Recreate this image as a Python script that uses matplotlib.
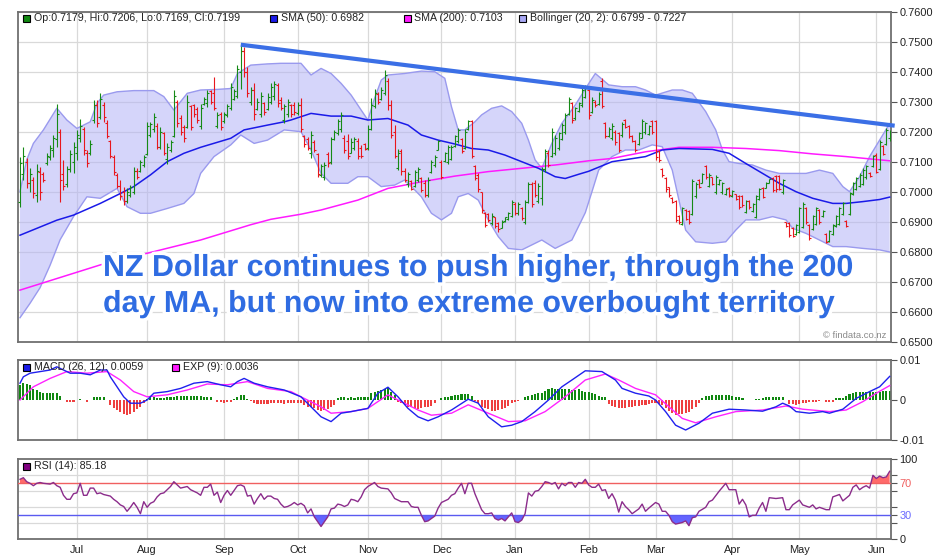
import numpy as np
import pandas as pd
import matplotlib
matplotlib.use("Agg")
import matplotlib.pyplot as plt
import matplotlib.patheffects as pe
from matplotlib.patches import Rectangle

plt.rcParams['font.family'] = ['Liberation Sans', 'DejaVu Sans']

# ---------------- data (prices in 1/10000 units) ----------------
START_DATE = '2016-06-08'
N_BARS = 261

OPEN = [6965,7060,7100,7030,7040,6990,7065,7060,7095,7115,
        7140,7175,7200,7060,7025,7075,7100,7130,7180,7210,
        7130,7130,7240,7290,7250,7290,7230,7170,7115,7055,
        7020,7000,6970,6990,7000,7070,7070,7090,7125,7190,
        7210,7220,7150,7195,7110,7140,7185,7300,7245,7215,
        7215,7285,7290,7275,7220,7292,7295,7335,7330,7220,
        7260,7235,7255,7280,7310,7320,7400,7470,7400,7300,
        7340,7275,7260,7295,7275,7300,7320,7355,7305,7240,
        7260,7290,7290,7262,7290,7185,7175,7130,7165,7125,
        7055,7050,7125,7100,7175,7195,7210,7180,7170,7130,
        7145,7170,7145,7158,7145,7210,7285,7325,7310,7330,
        7370,7290,7200,7080,7135,7070,7025,7035,7020,7040,
        7045,7030,6990,7065,7090,7140,7100,7102,7100,7110,
        7152,7170,7175,7145,7208,7235,7085,7055,6998,6930,
        6925,6895,6915,6895,6880,6903,6910,6920,6960,6930,
        6945,6900,6965,7025,7030,6970,6980,7075,7130,7120,
        7130,7145,7175,7200,7260,7295,7245,7270,7290,7315,
        7340,7265,7300,7292,7370,7228,7185,7180,7200,7195,
        7190,7240,7218,7185,7168,7160,7180,7198,7192,7235,
        7235,7135,7075,7045,7015,6980,6968,6920,6893,6940,
        6935,6925,6985,7040,7030,7085,7020,7048,6998,7025,
        6998,6992,7014,6985,6992,6985,6985,6932,6968,6936,
        6915,6975,7014,7013,7030,7046,7052,7052,6998,6898,
        6896,6880,6858,6865,6882,6946,6890,6876,6893,6940,
        6919,6858,6836,6858,6886,6892,6925,6903,6925,6992,
        7009,7020,7026,7048,7064,7086,7124,7076,7152,7160,
        7179]
HIGH = [7117,7148,7111,7078,7050,7094,7081,7067,7128,7156,
        7189,7294,7209,7106,7086,7139,7167,7206,7241,7217,
        7139,7172,7306,7306,7328,7300,7239,7174,7122,7061,
        7039,7017,7011,7022,7083,7078,7106,7122,7233,7233,
        7261,7228,7217,7200,7161,7172,7339,7306,7256,7222,
        7322,7289,7294,7283,7294,7317,7339,7339,7383,7267,
        7267,7267,7294,7361,7344,7422,7489,7483,7417,7350,
        7363,7311,7333,7300,7328,7361,7369,7361,7317,7294,
        7308,7294,7300,7300,7311,7189,7183,7203,7172,7128,
        7094,7100,7133,7183,7206,7244,7267,7189,7194,7178,
        7183,7178,7156,7161,7222,7311,7344,7333,7350,7406,
        7378,7306,7222,7144,7144,7078,7067,7039,7072,7083,
        7050,7039,7050,7106,7122,7172,7106,7133,7156,7156,
        7189,7211,7178,7208,7239,7239,7089,7061,7000,6933,
        6928,6928,6917,6900,6906,6917,6933,6972,6967,6967,
        6950,6972,7033,7033,7039,7028,7083,7144,7139,7211,
        7189,7200,7228,7261,7317,7300,7283,7300,7350,7356,
        7344,7317,7306,7333,7378,7233,7217,7228,7206,7200,
        7233,7244,7222,7189,7172,7200,7244,7233,7222,7239,
        7239,7139,7078,7050,7017,6983,6972,6922,6950,6944,
        6939,7044,7033,7044,7061,7089,7061,7050,7056,7044,
        7033,7011,7017,7006,6994,6989,6989,6972,6972,6961,
        6989,7011,7017,7033,7044,7050,7056,7056,7044,6900,
        6900,6883,6894,6950,6967,6950,6894,6922,6950,6944,
        6939,6861,6872,6894,6922,6950,6967,6906,7000,7033,
        7050,7061,7078,7089,7067,7122,7128,7172,7156,7211,
        7206]
LOW = [6950,7039,7011,7000,6978,6967,6972,7033,7089,7106,
       7117,7150,6967,7006,7017,7067,7061,7106,7167,7122,
       7083,7122,7228,7217,7244,7233,7178,7111,7056,7011,
       6972,6956,6961,6983,6994,7044,7067,7083,7122,7183,
       7200,7141,7144,7122,7094,7133,7183,7217,7189,7167,
       7211,7206,7250,7228,7208,7289,7283,7294,7272,7211,
       7206,7228,7250,7272,7306,7311,7344,7383,7317,7290,
       7239,7272,7250,7256,7272,7294,7306,7283,7272,7228,
       7250,7250,7256,7256,7200,7150,7139,7111,7133,7050,
       7050,7039,7083,7094,7172,7189,7200,7128,7108,7128,
       7139,7108,7111,7139,7139,7206,7278,7294,7306,7322,
       7272,7178,7111,7072,7056,7033,7017,7006,7017,7033,
       7000,6983,6983,7061,7083,7139,7044,7100,7094,7106,
       7150,7161,7128,7144,7206,7111,7039,7000,6928,6883,
       6900,6889,6878,6867,6878,6900,6906,6917,6922,6922,
       6906,6894,6961,6950,6983,6961,6956,7067,7083,7117,
       7122,7139,7172,7194,7256,7228,7239,7267,7283,7311,
       7244,7261,7283,7289,7278,7178,7183,7172,7156,7133,
       7183,7211,7178,7167,7133,7156,7178,7194,7189,7194,
       7106,7100,7050,7000,6983,6961,6900,6894,6889,6906,
       6894,6922,6978,7011,7028,7044,7017,7022,6994,7022,
       6994,6989,6983,6983,6972,6944,6950,6928,6944,6933,
       6911,6972,6978,7011,7028,7000,7000,7006,6994,6883,
       6850,6850,6856,6861,6878,6894,6839,6872,6889,6894,
       6917,6828,6833,6856,6883,6889,6922,6883,6922,6989,
       7006,7017,7022,7044,7050,7083,7061,7072,7122,7156,
       7169]
CLOSE = [7095,7120,7030,7060,6995,7070,7000,7040,7120,7145,
         7180,7260,7040,7020,7075,7125,7150,7190,7220,7140,
         7095,7160,7290,7230,7310,7250,7185,7120,7065,7020,
         6985,6970,7000,7015,7070,7050,7100,7115,7220,7225,
         7250,7150,7200,7130,7150,7165,7320,7230,7200,7180,
         7300,7215,7260,7240,7280,7310,7330,7300,7280,7255,
         7215,7260,7285,7350,7335,7410,7470,7400,7330,7340,
         7260,7300,7320,7265,7315,7350,7360,7295,7280,7285,
         7300,7260,7265,7290,7210,7160,7145,7190,7140,7060,
         7085,7090,7095,7175,7200,7235,7255,7140,7120,7165,
         7175,7120,7120,7142,7210,7290,7330,7300,7340,7390,
         7290,7190,7120,7130,7070,7040,7060,7010,7065,7075,
         7005,6990,7040,7100,7115,7168,7050,7128,7150,7150,
         7185,7205,7135,7200,7235,7120,7045,7010,6940,6890,
         6905,6920,6885,6875,6900,6915,6930,6965,6930,6960,
         6912,6965,7025,6960,6990,7020,7075,7135,7090,7200,
         7180,7195,7222,7255,7310,7240,7278,7295,7340,7345,
         7255,7305,7288,7325,7285,7185,7210,7220,7165,7140,
         7225,7215,7185,7170,7140,7195,7235,7228,7218,7200,
         7115,7105,7055,7008,6988,6965,6905,6898,6945,6910,
         6900,7035,7025,7015,7058,7050,7055,7025,7050,7040,
         7028,7008,6988,7003,6975,6950,6955,6968,6948,6958,
         6985,7008,6982,7030,7042,7005,7008,7010,7040,6886,
         6855,6853,6890,6945,6960,6898,6845,6918,6945,6898,
         6936,6832,6868,6890,6918,6945,6962,6886,6995,7030,
         7046,7056,7072,7085,7053,7118,7066,7165,7126,7205,
         7199]

# Moving averages / Bollinger (trading-day index, value in 1/10000)
SMA50_IDX = [0,11,16,24,30,34,39,44,49,54,63,67,74,79,81,87,93,99,104,110,
             116,120,125,130,135,140,145,150,155,160,163,167,170,177,187,192,197,207,212,217,
             222,227,232,237,243,247,252,257,260]
SMA50_VAL = [6855,6905,6922,6961,6994,7017,7056,7100,7128,7148,7178,7206,7222,7233,7239,7261,7252,7252,7239,7244,
             7222,7189,7172,7159,7144,7139,7122,7100,7078,7050,7044,7058,7068,7100,7117,7139,7144,7141,7128,7094,
             7061,7028,7000,6978,6961,6961,6967,6974,6982]
SMA200_IDX = [0,24,54,69,75,84,90,101,110,120,130,140,150,160,170,177,187,197,207,217,227,237,247,260]
SMA200_VAL = [6672,6756,6839,6890,6908,6925,6939,6972,7011,7033,7052,7067,7078,7089,7103,7111,7133,7148,7148,7144,
              7137,7126,7117,7103]
BB_UP_IDX = [0,2,4,7,11,14,17,21,23,25,29,34,40,43,46,50,54,59,63,65,
             69,74,78,84,87,90,93,96,99,102,104,106,108,110,115,120,124,127,129,131,
             133,136,138,141,144,147,150,152,154,156,159,162,166,170,172,176,180,184,187,190,
             195,198,201,205,208,210,212,215,219,223,227,231,235,239,243,246,248,251,254,257,260]
BB_UP_VAL = [7000,7106,7161,7206,7278,7239,7211,7233,7294,7322,7333,7337,7337,7317,7272,7328,7339,7341,7344,7394,
             7422,7426,7428,7428,7389,7411,7394,7361,7322,7272,7239,7311,7372,7389,7394,7402,7400,7378,7283,7206,
             7206,7233,7256,7278,7286,7267,7228,7172,7106,7078,7161,7228,7289,7360,7394,7356,7350,7350,7339,7322,
             7339,7339,7328,7267,7206,7139,7100,7094,7089,7072,7061,7061,7061,7072,7061,7017,7000,7050,7117,7172,7227]
BB_LO_IDX = [0,3,6,9,12,16,20,24,29,32,36,39,44,49,52,54,58,63,66,70,
             74,79,84,87,90,93,98,101,104,108,112,115,118,120,123,126,129,131,134,137,
             140,143,146,150,154,156,160,165,169,171,173,177,181,185,189,192,195,197,199,202,
             207,211,214,217,221,225,229,231,235,239,243,247,252,257,260]
BB_LO_VAL = [6580,6628,6680,6755,6840,6917,6983,6978,7011,6950,6928,6928,6944,6961,6994,7061,7117,7156,7189,7161,
             7172,7206,7200,7139,7061,7028,7028,7050,7050,7017,7022,7039,7006,6983,6928,6906,6928,6983,6994,6972,
             6906,6850,6811,6806,6828,6839,6811,6839,6930,7000,7072,7117,7139,7139,7156,7150,7072,6972,6872,6833,
             6828,6833,6872,6906,6906,6917,6906,6878,6861,6839,6817,6817,6811,6806,6799]
TREND_IDX = [66, 261.5]
TREND_VAL = [7490, 7220]

# MACD (values in 1/10000)
MACD_IDX = [0,1,3,9,11,13,15,18,21,24,26,27,29,31,33,36,38,40,44,48,
            52,56,60,63,65,67,70,74,79,84,87,90,93,96,99,104,107,110,113,116,
            119,122,125,129,134,137,140,144,147,150,154,158,162,165,169,174,178,180,184,188,
            190,193,196,199,203,207,212,217,222,226,228,230,232,236,240,242,246,250,254,257,260]
MACD_VAL = [42,58,67,75,83,75,67,67,63,75,75,58,33,8,-8,-8,0,17,21,29,
            42,46,38,33,46,54,42,33,25,8,-17,-42,-54,-33,-29,-21,17,32,8,-21,
            -42,-52,-42,-25,2,-8,-42,-67,-63,-54,-29,0,33,50,73,71,50,29,17,10,
            0,-29,-63,-75,-58,-33,-23,-25,-28,-17,-8,-15,-29,-33,-29,-33,-23,4,21,33,59]
SIGNAL_IDX = [0,4,9,14,20,26,30,34,38,44,50,56,62,68,74,81,84,90,93,99,
              104,110,113,119,123,129,134,140,146,151,157,163,169,175,179,184,190,194,198,202,
              208,214,222,229,234,242,247,252,256,260]
SIGNAL_VAL = [0,33,54,71,67,71,50,21,8,13,25,40,38,46,29,21,8,-17,-33,-29,
              -21,13,0,-25,-38,-33,-12,-33,-54,-52,-29,8,50,65,50,29,13,-17,-46,-57,
              -42,-29,-25,-15,-23,-29,-25,-4,17,36]
HIST = [37,42,39,37,27,25,21,17,17,17,18,17,10,0,-4,-4,-4,0,3,0,
        -6,0,7,8,8,8,0,-12,-21,-25,-29,-35,-37,-36,-29,-23,-17,-8,2,8,
        7,6,4,6,7,8,8,10,10,10,10,10,10,10,9,8,8,7,-1,-4,
        -6,-7,-6,-4,2,8,12,12,3,-2,-8,-10,-10,-10,-9,-8,-8,-8,-8,-9,
        -8,-8,-8,-8,-8,-12,-17,-17,-21,-25,-27,-25,-23,-18,-12,4,7,7,6,7,
        6,7,7,7,7,17,21,23,25,27,29,21,12,-4,-8,-12,-17,-18,-21,-23,
        -21,-18,-17,-15,-8,-1,6,7,8,10,12,13,14,15,14,10,-3,-8,-17,-21,
        -23,-27,-27,-25,-23,-21,-15,-8,-6,-2,1,7,11,12,14,17,18,23,27,29,
        28,27,27,27,27,25,25,27,23,21,19,17,14,10,8,7,-10,-15,-18,-21,
        -21,-19,-18,-17,-15,-15,-13,-12,-11,-8,-8,-10,-12,-21,-27,-33,-37,-36,-35,-33,
        -29,-23,-17,-8,4,10,11,12,12,12,12,12,12,10,8,7,4,1,1,1,
        2,2,4,7,8,8,8,7,7,0,-10,-11,-12,-10,-8,-7,-6,-6,-4,-2,
        0,-4,-6,-4,4,5,6,11,14,18,21,21,21,21,21,21,21,21,23,23,
        23]

# RSI (14)
RSI_IDX = [0,1,2,3,4,5,6,7,9,10,11,12,13,14,15,16,17,18,19,20,
           21,22,23,24,25,26,27,28,29,30,31,32,33,34,35,36,37,38,39,40,
           41,42,43,45,46,47,48,50,51,53,54,55,56,57,58,59,60,61,62,63,
           65,66,67,68,69,70,71,72,73,74,75,76,77,78,79,80,81,82,83,84,
           85,86,87,88,89,90,91,92,93,94,95,96,97,98,99,100,101,102,103,104,
           106,107,108,110,111,112,114,116,117,118,119,120,121,122,124,125,126,128,129,130,
           131,132,133,134,135,136,137,138,139,140,141,142,143,144,145,146,147,148,149,150,
           151,152,153,154,155,156,157,158,159,160,161,162,163,164,165,166,167,168,169,170,
           171,172,173,174,175,176,177,178,179,180,181,182,183,185,186,187,188,190,191,192,
           193,194,195,196,198,199,200,201,202,203,205,206,207,209,211,212,214,215,216,217,
           218,219,220,221,222,223,224,226,228,229,230,231,233,234,236,237,238,239,241,242,
           243,245,246,248,249,250,251,252,253,254,255,256,257,258,259,260]
RSI_VAL = [75,77,72,70,67,70,71,70,69,71,67,65,55,50,50,57,58,70,55,55,
           64,64,57,58,56,55,54,50,47,43,41,35,40,46,40,32,47,40,45,47,
           53,57,58,66,72,68,64,66,62,58,55,65,65,69,55,59,46,55,61,55,
           67,68,66,54,55,44,51,57,50,54,54,51,50,44,40,41,43,46,43,45,
           42,33,38,28,22,16,22,28,38,39,44,43,41,43,50,49,47,53,62,66,
           71,66,64,63,58,51,47,47,41,40,40,30,22,23,29,39,46,50,55,57,
           64,70,57,70,70,57,47,37,32,32,33,26,24,26,23,28,33,22,21,24,
           32,58,54,60,61,66,72,71,69,71,63,70,67,71,71,65,71,70,75,68,
           65,65,69,61,62,51,57,49,34,47,41,37,32,38,44,35,39,46,44,35,
           35,30,22,19,21,23,17,27,28,35,40,47,49,60,70,62,62,44,50,43,
           28,30,30,39,46,35,52,51,52,37,37,43,49,43,40,43,38,40,37,37,
           53,56,48,55,65,68,62,65,67,64,80,76,79,77,78,85]

MONTH_FMT = '%b'
PRICE_TICKS = [0.65, 0.66, 0.67, 0.68, 0.69, 0.70, 0.71, 0.72, 0.73, 0.74, 0.75, 0.76]

# ---------------- styling ----------------
GREEN = '#168a16'
RED = '#e8161c'
GRID = '#d9d9d9'
FRAME = '#707070'
TXT = '#222222'
W, H = 940, 560

fig = plt.figure(figsize=(W / 100, H / 100), dpi=100)
fig.patch.set_facecolor('white')

def fx(px):
    return px / W

def fy(py):
    return 1 - py / H

L, R = 18, 891
ax = fig.add_axes([fx(L), fy(341.7), (R - L) / W, 330 / H])
axm = fig.add_axes([fx(L), fy(440), (R - L) / W, 80 / H])
axr = fig.add_axes([fx(L), fy(539.3), (R - L) / W, 80 / H])

dates = pd.bdate_range(START_DATE, periods=N_BARS)
xi = np.arange(N_BARS)
month_pos = [i for i in range(1, N_BARS) if dates[i].month != dates[i - 1].month]
month_lab = [dates[i].strftime(MONTH_FMT) for i in month_pos]

o = np.array(OPEN) / 1e4
h = np.array(HIGH) / 1e4
l = np.array(LOW) / 1e4
c = np.array(CLOSE) / 1e4

for a in (ax, axm, axr):
    a.set_xlim(-0.6, 260.4)
    a.set_xticks(month_pos)
    a.set_xticklabels([])
    a.grid(axis='x', color=GRID, lw=0.9, zorder=0)
    a.set_axisbelow(True)
    for s in a.spines.values():
        s.set_color(FRAME)
        s.set_linewidth(1.3)
    a.tick_params(axis='x', length=0)
    a.yaxis.tick_right()
    a.tick_params(axis='y', direction='out', length=4, width=0.8, color='#555555',
                  labelsize=7.9, pad=2, labelcolor=TXT)

# ---------------- main price panel ----------------
ax.set_ylim(0.65, 0.76)
ax.set_yticks(PRICE_TICKS)
ax.set_yticklabels(['%.4f' % v for v in PRICE_TICKS])
ax.grid(axis='y', color=GRID, lw=0.9, zorder=0)

bu_x = np.array(BB_UP_IDX); bu_y = np.array(BB_UP_VAL) / 1e4
bl_x = np.array(BB_LO_IDX); bl_y = np.array(BB_LO_VAL) / 1e4
ax.fill(np.concatenate([bu_x, bl_x[::-1]]), np.concatenate([bu_y, bl_y[::-1]]),
        facecolor='#b4b4f6', alpha=0.55, edgecolor='none', zorder=1)
ax.plot(bu_x, bu_y, color='#9a9aee', lw=1.0, zorder=2)
ax.plot(bl_x, bl_y, color='#9a9aee', lw=1.0, zorder=2)

ax.plot(SMA200_IDX, np.array(SMA200_VAL) / 1e4, color='#ff1aff', lw=1.1, zorder=3)
ax.plot(SMA50_IDX, np.array(SMA50_VAL) / 1e4, color='#1a1ae8', lw=1.1, zorder=3)

up = c >= o
for mask, col in ((up, GREEN), (~up, RED)):
    ax.vlines(xi[mask], l[mask], h[mask], color=col, lw=0.8, zorder=4)
    ax.hlines(o[mask], xi[mask] - 0.6, xi[mask], color=col, lw=0.8, zorder=4)
    ax.hlines(c[mask], xi[mask], xi[mask] + 0.6, color=col, lw=0.8, zorder=4)

ax.plot(TREND_IDX, np.array(TREND_VAL) / 1e4, color='#3b6fe6', lw=3.0,
        solid_capstyle='butt', zorder=5, clip_on=False)

# ---------------- MACD panel ----------------
axm.set_ylim(-0.01, 0.01)
axm.set_yticks([-0.01, 0, 0.01])
axm.set_yticklabels(['-0.01', '0', '0.01'])
hv = np.array(HIST) / 1e4
axm.bar(xi, hv, width=0.62, color=np.where(hv >= 0, '#118811', '#ee4040'), zorder=2)
axm.plot(SIGNAL_IDX, np.array(SIGNAL_VAL) / 1e4, color='#ff22ff', lw=1.0, zorder=3)
axm.plot(MACD_IDX, np.array(MACD_VAL) / 1e4, color='#2020ee', lw=1.0, zorder=4)

# ---------------- RSI panel ----------------
axr.set_ylim(0, 100)
axr.set_yticks([0, 30, 70, 100])
axr.set_yticklabels(['0', '30', '70', '100'])
axr.set_yticks([20, 40, 60, 80], minor=True)
axr.tick_params(axis='y', which='minor', direction='out', length=4, width=0.8, color='#555555')
axr.grid(axis='y', which='minor', color=GRID, lw=0.9, zorder=0)
tl = axr.get_yticklabels()
tl[1].set_color('#6a6aff')
tl[2].set_color('#f06060')
axr.set_xticklabels(month_lab, fontsize=7.9, color=TXT)
axr.tick_params(axis='x', pad=4)
rx = np.array(RSI_IDX); ry = np.array(RSI_VAL, dtype=float)
axr.fill_between(rx, ry, 70, where=ry >= 70, interpolate=True, color='#ff6a6a', lw=0, zorder=2)
axr.fill_between(rx, ry, 30, where=ry <= 30, interpolate=True, color='#6464ff', lw=0, zorder=2)
axr.axhline(70, color='#f06060', lw=1.0, zorder=3)
axr.axhline(30, color='#5a5af0', lw=1.0, zorder=3)
axr.plot(rx, ry, color='#8b2c8b', lw=1.0, zorder=4)

# ---------------- legends ----------------
def legend_item(px, py, color, text, tx=None):
    fig.patches.append(Rectangle((fx(px), fy(py + 3.5)), 7 / W, 7 / H, transform=fig.transFigure,
                                 facecolor=color, edgecolor='black', lw=0.8, zorder=10))
    fig.text(fx(tx if tx is not None else px + 12), fy(py), text, fontsize=7.7,
             color=TXT, va='center', ha='left', zorder=10)

legend_item(23, 18, '#118811', 'Op:0.7179, Hi:0.7206, Lo:0.7169, Cl:0.7199', 34)
legend_item(270, 18, '#1a1ae8', 'SMA (50): 0.6982', 281)
legend_item(404, 18, '#ff1aff', 'SMA (200): 0.7103', 414)
legend_item(519, 18, '#a8a8f4', 'Bollinger (20, 2): 0.6799 - 0.7227', 530)
legend_item(23, 367, '#1a1ae8', 'MACD (26, 12): 0.0059', 34)
legend_item(172, 367, '#ff1aff', 'EXP (9): 0.0036', 183)
legend_item(23, 466, '#800080', 'RSI (14): 85.18', 34)

# ---------------- annotation ----------------
stroke = [pe.withStroke(linewidth=5, foreground='white')]
fig.text(fx(103), fy(276), 'NZ Dollar continues to push higher, through the 200',
         fontsize=21.9, fontweight='bold', color='#2f6ce2', ha='left', va='baseline',
         path_effects=stroke, zorder=20)
fig.text(fx(103), fy(312), 'day MA, but now into extreme overbought territory',
         fontsize=21.9, fontweight='bold', color='#2f6ce2', ha='left', va='baseline',
         path_effects=stroke, zorder=20)
fig.text(fx(886), fy(336), '\u00a9 findata.co.nz', fontsize=6.8, color='#8a8a8a',
         ha='right', va='center', zorder=20)

fig.savefig('out.png', dpi=100, facecolor='white')
